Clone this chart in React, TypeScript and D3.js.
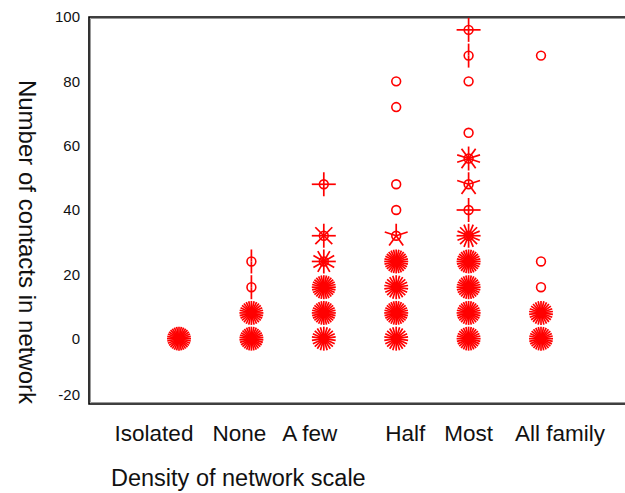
import React from 'react';
import * as d3 from 'd3';

// categories on the x axis
const categories = ['Isolated', 'None', 'A few', 'Half', 'Most', 'All family'];
const yTicks = [-20, 0, 20, 40, 60, 80, 100];

// sunflower points: category, number of contacts, how many cases (petals)
const flowerCategory = [
    'Isolated',
    'None', 'None', 'None', 'None',
    'A few', 'A few', 'A few', 'A few', 'A few', 'A few',
    'Half', 'Half', 'Half', 'Half', 'Half', 'Half', 'Half', 'Half', 'Half',
    'Most', 'Most', 'Most', 'Most', 'Most', 'Most', 'Most', 'Most', 'Most', 'Most', 'Most', 'Most',
    'All family', 'All family', 'All family', 'All family', 'All family',
];
const flowerContacts = [
    0,
    0, 8, 16, 24,
    0, 8, 16, 24, 32, 48,
    0, 8, 16, 24, 32, 40, 48, 72, 80,
    0, 8, 16, 24, 32, 40, 48, 56, 64, 80, 88, 96,
    0, 8, 16, 24, 88,
];
const flowerCount = [
    32,
    30, 28, 2, 2,
    22, 28, 28, 12, 8, 4,
    22, 28, 22, 28, 5, 1, 1, 1, 1,
    28, 28, 28, 28, 16, 4, 5, 10, 1, 1, 2, 4,
    28, 26, 1, 1, 1,
];

const W = 625;
const H = 493;
const left = 89;
const top = 17;
const bottom = 404;

// label nudges (the original tick labels do not sit right under the points)
const labelNudge = [-25, -12, -14, 9, 0, 19];

const App: React.FC = () => {
    const x = d3.scalePoint<string>().domain(categories).range([179, 541]);
    const y = d3.scaleLinear().domain([-20, 100]).range([bottom - 1, top]);

    const petalLen = 12;
    const red = '#ff0000';
    const font = '"Liberation Sans", Arial, sans-serif';

    return (
        <svg width={W} height={H} style={{ position: 'absolute', left: 0, top: 0, background: '#fff' }}>
            {/* frame, open on the right */}
            <path d={`M${W + 10},${top}H${left}V${bottom}H${W + 10}`} fill="none" stroke="#000" strokeWidth={1.6} />
            <path d={`M${W + 10},${top + 1.5}H${left + 1.5}V${bottom - 1.5}H${W + 10}`} fill="none" stroke="#999" strokeWidth={1} />

            {yTicks.map((t) => {
                const yy = t === -20 ? y(t) - 8 : y(t);
                return (
                    <text key={t} x={80} y={yy} dy="0.35em" textAnchor="end" fontFamily={font} fontSize={15} fill="#111">
                        {t}
                    </text>
                );
            })}

            {categories.map((c, i) => (
                <text key={c} x={(x(c) ?? 0) + labelNudge[i]} y={441} textAnchor="middle" fontFamily={font} fontSize={22.5} fill="#111">
                    {c}
                </text>
            ))}

            <text x={111} y={486} fontFamily={font} fontSize={23.5} fill="#111">Density of network scale</text>
            <text transform={`translate(19,242) rotate(90)`} textAnchor="middle" fontFamily={font} fontSize={24} fill="#111">
                Number of contacts in network
            </text>

            {flowerCategory.map((c, i) => {
                const cx = x(c) ?? 0;
                const cy = y(flowerContacts[i]);
                const n = flowerCount[i];
                const petals = n > 1 ? d3.range(n).map((k) => -Math.PI / 2 + (2 * Math.PI * k) / n) : [];
                return (
                    <g key={i} transform={`translate(${cx},${cy})`}>
                        <circle r={4.4} fill="none" stroke={red} strokeWidth={1.6} />
                        {petals.map((a, k) => (
                            <line key={k} x1={0} y1={0} x2={Math.cos(a) * petalLen} y2={Math.sin(a) * petalLen} stroke={red} strokeWidth={1.7} />
                        ))}
                    </g>
                );
            })}
        </svg>
    );
};

export default App;
